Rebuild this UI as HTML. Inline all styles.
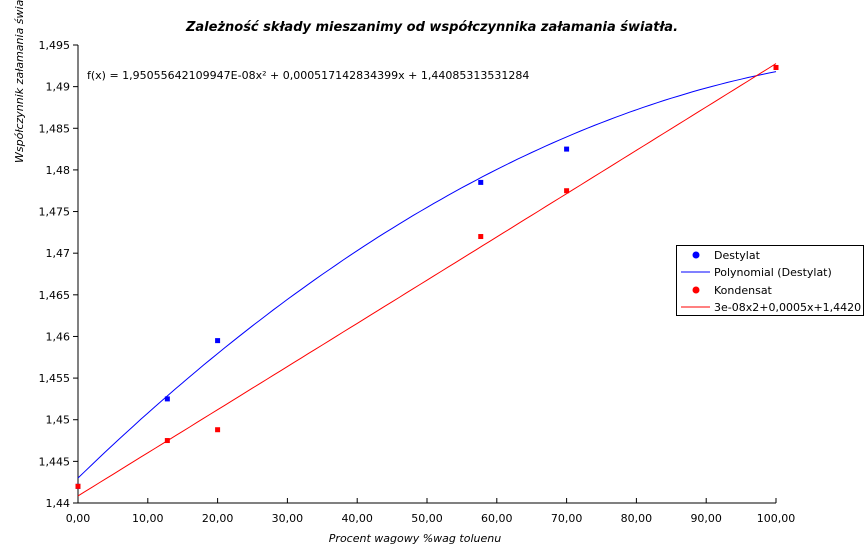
<!DOCTYPE html>
<html><head><meta charset="utf-8"><style>
body{margin:0;background:#fff;}
svg{display:block;font-family:"DejaVu Sans","Liberation Sans",sans-serif;}
</style></head><body>
<svg id="chart" width="867" height="548" viewBox="0 0 867 548">
<text x="432" y="31" text-anchor="middle" font-size="13" font-weight="bold" font-style="italic">Zależność składy mieszanimy od współczynnika załamania światła.</text>
<text transform="translate(23,163) rotate(-90)" font-size="11" font-style="italic">Współczynnik załamania światła</text>
<text x="415" y="542" text-anchor="middle" font-size="11" font-style="italic">Procent wagowy %wag toluenu</text>
<text x="87" y="79" font-size="11">f(x) = 1,95055642109947E-08x² + 0,000517142834399x + 1,44085313531284</text>
<g id="axes"></g>
<g id="marks"></g>
<g>
<rect x="676.5" y="245.5" width="187" height="70" fill="#fff" stroke="#000"/>
<circle cx="696" cy="255" r="3.5" fill="#0000ff"/>
<text x="714" y="259" font-size="11">Destylat</text>
<line x1="681" y1="272" x2="710" y2="272" stroke="#0000ff"/>
<text x="714" y="276" font-size="11">Polynomial (Destylat)</text>
<circle cx="696" cy="290" r="3.5" fill="#ff0000"/>
<text x="714" y="294" font-size="11">Kondensat</text>
<line x1="681" y1="307" x2="710" y2="307" stroke="#ff0000"/>
<text x="714" y="311" font-size="11">3e-08x2+0,0005x+1,4420</text>
</g>
</svg>
<script>
const xTicks=[0,10,20,30,40,50,60,70,80,90,100];
const yTicks=[1.44,1.445,1.45,1.455,1.46,1.465,1.47,1.475,1.48,1.485,1.49,1.495];
const yTickLabels=["1,44","1,445","1,45","1,455","1,46","1,465","1,47","1,475","1,48","1,485","1,49","1,495"];
const destX=[0,12.8,20,57.7,70,100];
const destY=[1.442,1.4525,1.4595,1.4785,1.4825,1.4923];
const kondX=[0,12.8,20,57.7,70,100];
const kondY=[1.442,1.4475,1.4488,1.472,1.4775,1.4923];
const destFit=[-3.24e-6,0.000812,1.443];
const kondFit=[1.95055642109947e-8,0.000517142834399,1.44085313531284];
const NS="http://www.w3.org/2000/svg";
const X=v=>78+v*(776-78)/100;
const Y=v=>503-(v-1.44)*(503-45)/0.055;
const ax=document.getElementById('axes'),mk=document.getElementById('marks');
function el(t,a,p){const e=document.createElementNS(NS,t);for(const k in a)e.setAttribute(k,a[k]);p.appendChild(e);return e;}
let l=el('line',{x1:78,y1:45,x2:78,y2:503,stroke:'#000'},ax);


l=el('line',{x1:78,y1:503,x2:776,y2:503,stroke:'#000'},ax);


yTicks.forEach((v,i)=>{
 el('line',{x1:73,y1:Y(v),x2:78,y2:Y(v),stroke:'#000'},ax);
 const t=el('text',{x:70,y:Y(v)+4,'text-anchor':'end','font-size':11},ax);
 t.textContent=yTickLabels[i];
 
 
});
xTicks.forEach(v=>{
 el('line',{x1:X(v),y1:503,x2:X(v),y2:498,stroke:'#000'},ax);
 const t=el('text',{x:X(v),y:522,'text-anchor':'middle','font-size':11},ax);
 t.textContent=v.toFixed(2).replace('.',',');
 
 
});
function curve(c,color,name){
 let d='';for(let x=0;x<=100;x+=1){const y=c[0]*x*x+c[1]*x+c[2];d+=(x?'L':'M')+X(x).toFixed(1)+','+Y(y).toFixed(1);}
 const p=el('path',{d:d,fill:'none',stroke:color,'stroke-width':1},mk);
 
 
}
curve(destFit,'#0000ff','destylat-fit-line');
curve(kondFit,'#ff0000','kondensat-fit-line');
destX.forEach((x,i)=>{const c=el('rect',{x:X(x)-2.5,y:Y(destY[i])-2.5,width:5,height:5,fill:'#0000ff'},mk);
 
 });
kondX.forEach((x,i)=>{const c=el('rect',{x:X(x)-2.5,y:Y(kondY[i])-2.5,width:5,height:5,fill:'#ff0000'},mk);
 
 });
</script>
</body></html>
